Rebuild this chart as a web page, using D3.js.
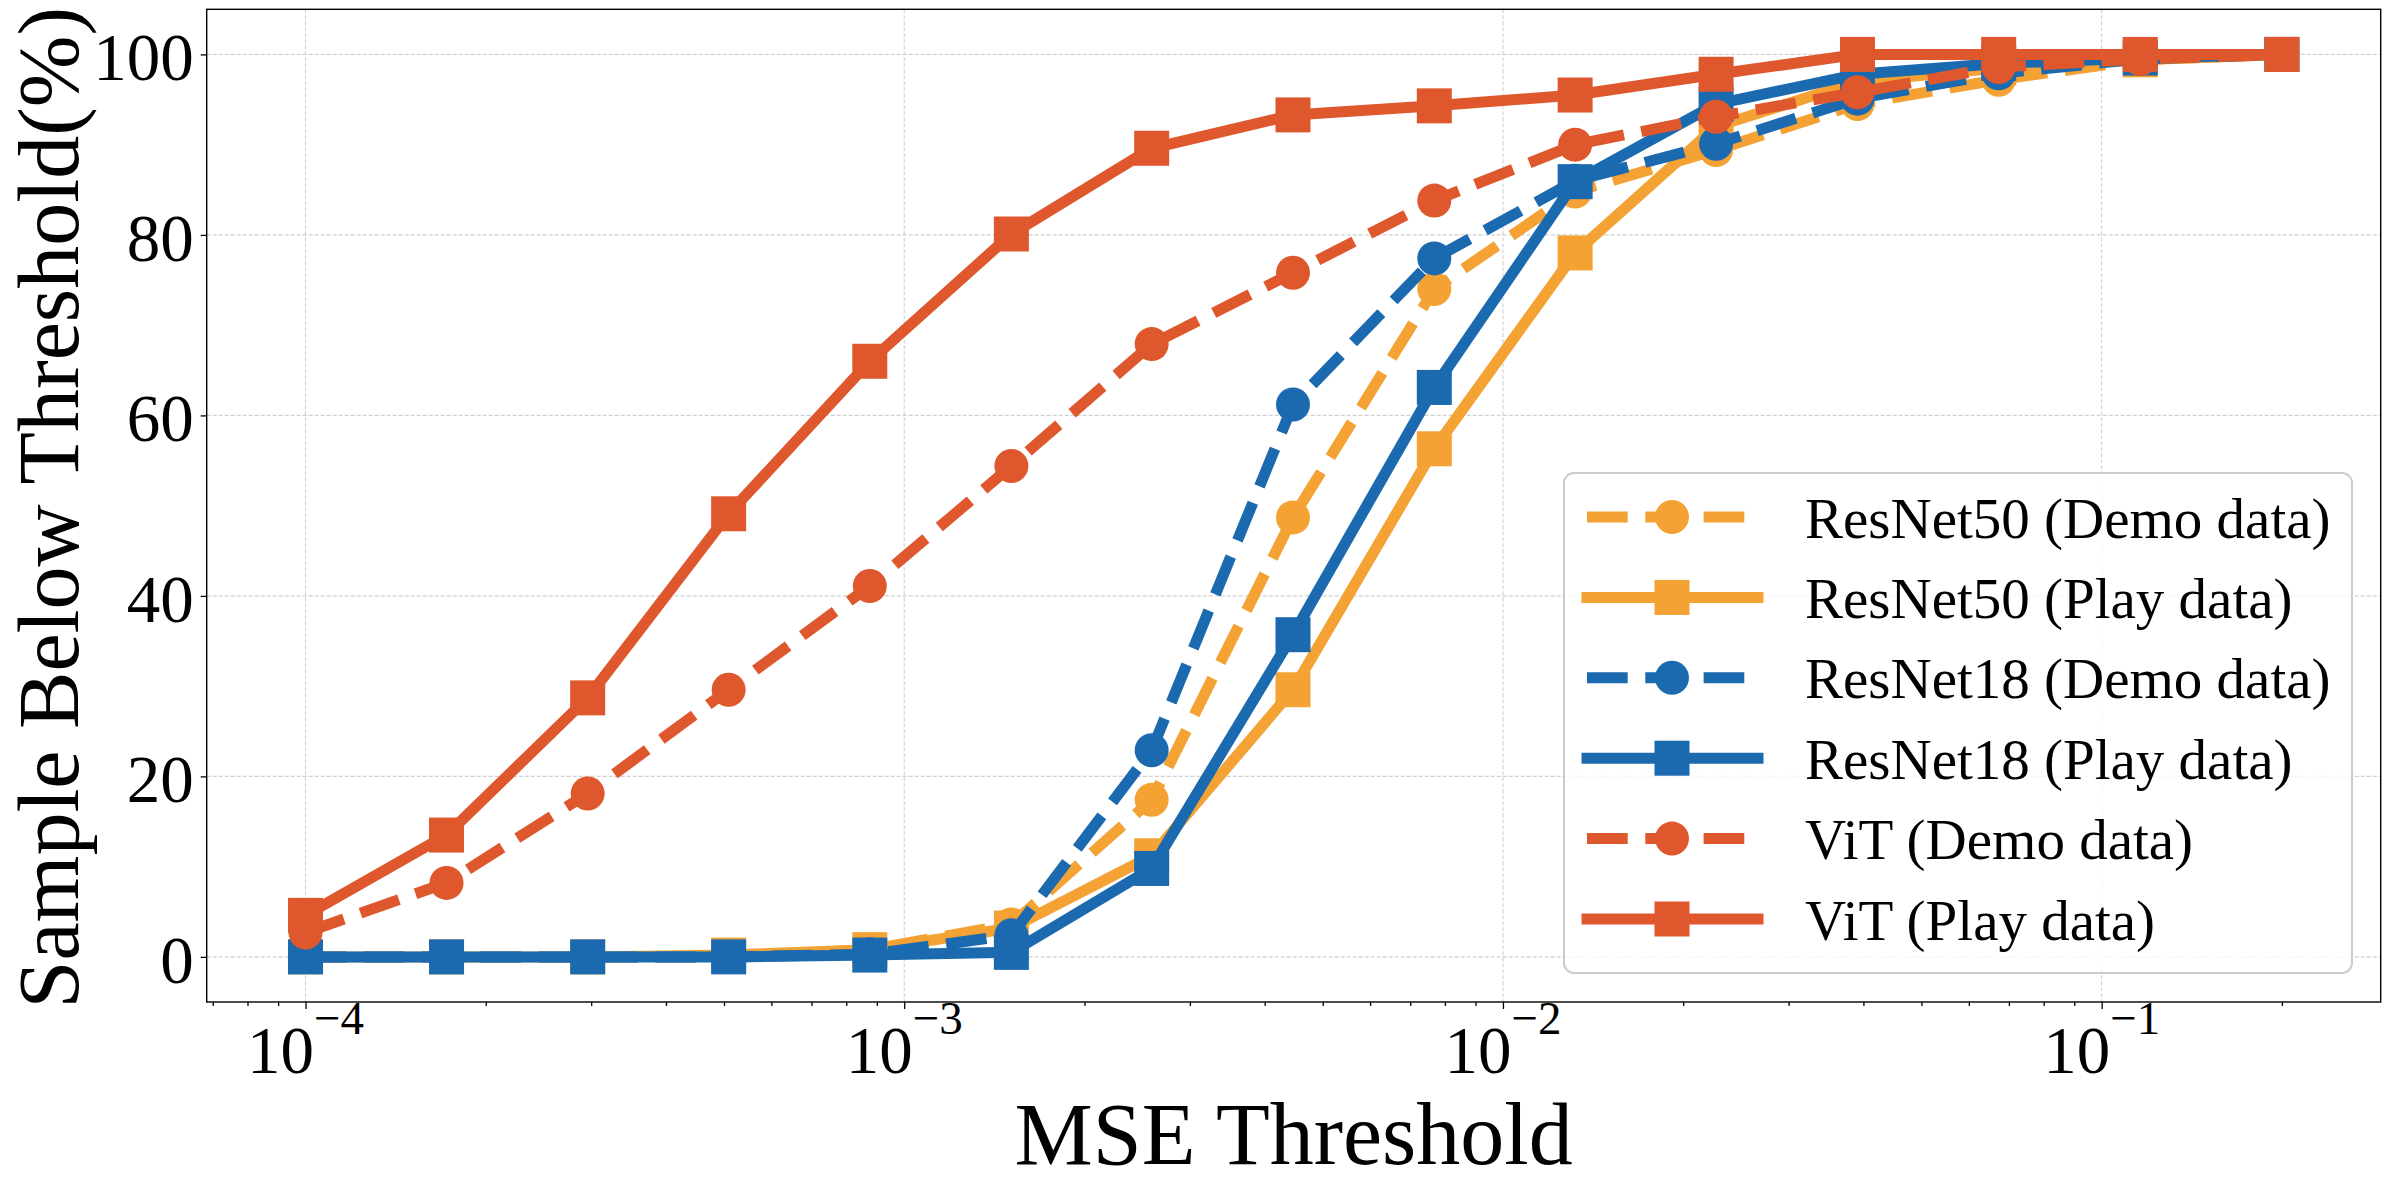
<!DOCTYPE html>
<html><head><meta charset="utf-8">
<script src="https://cdn.jsdelivr.net/npm/d3@7"></script>
<style>html,body{margin:0;padding:0;background:#fff;overflow:hidden}</style>
</head><body>
<svg id="chart" width="2390" height="1189" xmlns="http://www.w3.org/2000/svg"></svg>
<script>
// ---------- data ----------
const mseThresholds = [1.0e-4, 1.72e-4, 2.96e-4, 5.09e-4, 8.76e-4, 1.51e-3, 2.59e-3, 4.46e-3, 7.68e-3, 1.32e-2, 2.27e-2, 3.91e-2, 6.73e-2, 1.16e-1, 2.0e-1];
const resnet50Demo = [0, 0, 0, 0, 0.8, 3.6, 17.4, 48.7, 74.0, 84.8, 89.4, 94.5, 97.2, 99.4, 100];
const resnet50Play = [0, 0, 0, 0.2, 0.8, 3.2, 11.2, 29.6, 56.3, 78.0, 92.0, 97.0, 98.5, 99.4, 100];
const resnet18Demo = [0, 0, 0, 0, 0.3, 2.4, 22.9, 61.2, 77.4, 86.0, 90.1, 95.1, 97.9, 99.5, 100];
const resnet18Play = [0, 0, 0, 0, 0.2, 0.5, 9.8, 35.7, 63.1, 85.9, 94.5, 97.8, 99.0, 99.6, 100];
const vitDemo      = [2.7, 8.2, 18.1, 29.6, 41.1, 54.4, 67.9, 75.8, 83.8, 90.0, 93.1, 95.8, 98.6, 99.5, 100];
const vitPlay      = [4.6, 13.5, 28.7, 49.1, 66.0, 80.1, 89.6, 93.3, 94.3, 95.5, 97.8, 100, 100, 100, 100];
const seriesNames  = ["ResNet50 (Demo data)", "ResNet50 (Play data)", "ResNet18 (Demo data)", "ResNet18 (Play data)", "ViT (Demo data)", "ViT (Play data)"];
const seriesValues = [resnet50Demo, resnet50Play, resnet18Demo, resnet18Play, vitDemo, vitPlay];
const yTickValues  = [0, 20, 40, 60, 80, 100];
const xTickExponents = [-4, -3, -2, -1];
const xLabel = "MSE Threshold";
const yLabel = "Sample Below Threshold(%)";

// ---------- styles ----------
const colors = {orange: "#f3a233", blue: "#1b6ab0", red: "#df582d"};
const seriesStyle = [
  {color: colors.orange, dashed: true,  marker: "circle"},
  {color: colors.orange, dashed: false, marker: "square"},
  {color: colors.blue,   dashed: true,  marker: "circle"},
  {color: colors.blue,   dashed: false, marker: "square"},
  {color: colors.red,    dashed: true,  marker: "circle"},
  {color: colors.red,    dashed: false, marker: "square"}
];
const FONT = "'Liberation Serif', 'Times New Roman', serif";
const LW = 11, DASH = "40.7,17.6", SQ = 35, CR = 17;

const W = 2390, H = 1189;
const plot = {left: 206.7, right: 2380.7, top: 9.3, bottom: 1002};
const svg = d3.select("#chart");
svg.append("rect").attr("width", W).attr("height", H).attr("fill", "#fff");

const lx = d3.extent(mseThresholds).map(Math.log10);
const pad = (lx[1] - lx[0]) * 0.05;
const x = d3.scaleLog().domain([Math.pow(10, lx[0] - pad), Math.pow(10, lx[1] + pad)]).range([plot.left, plot.right]);
const y = d3.scaleLinear().domain([-5, 105]).range([plot.bottom, plot.top]);

svg.append("defs").append("clipPath").attr("id", "clip")
  .append("rect").attr("x", plot.left).attr("y", plot.top)
  .attr("width", plot.right - plot.left).attr("height", plot.bottom - plot.top);

// ---------- grid ----------
const majorX = xTickExponents.map(e => Math.pow(10, e));
const grid = svg.append("g").attr("stroke", "#d0d0d0").attr("stroke-width", 1.1).attr("stroke-dasharray", "4,2");
grid.selectAll("line.gx").data(majorX).join("line").attr("class", "gx")
  .attr("x1", d => x(d)).attr("x2", d => x(d)).attr("y1", plot.top).attr("y2", plot.bottom);
grid.selectAll("line.gy").data(yTickValues).join("line").attr("class", "gy")
  .attr("x1", plot.left).attr("x2", plot.right).attr("y1", d => y(d)).attr("y2", d => y(d));

// ---------- series ----------
const gData = svg.append("g").attr("clip-path", "url(#clip)");
const line = d3.line().x((d, i) => x(mseThresholds[i])).y(d => y(d));

function drawMarker(g, type, cx, cy, color) {
  if (type === "circle") {
    g.append("circle").attr("cx", cx).attr("cy", cy).attr("r", CR).attr("fill", color);
  } else {
    g.append("rect").attr("x", cx - SQ / 2).attr("y", cy - SQ / 2).attr("width", SQ).attr("height", SQ).attr("fill", color);
  }
}

seriesValues.forEach((vals, si) => {
  const st = seriesStyle[si];
  const g = gData.append("g");
  g.append("path").attr("d", line(vals)).attr("fill", "none")
    .attr("stroke", st.color).attr("stroke-width", LW)
    .attr("stroke-linejoin", "round")
    .attr("stroke-linecap", st.dashed ? "butt" : "square")
    .attr("stroke-dasharray", st.dashed ? DASH : null);
  vals.forEach((v, i) => drawMarker(g, st.marker, x(mseThresholds[i]), y(v), st.color));
});

// ---------- axes ----------
const minorX = [];
for (let e = -5; e <= 0; e++) for (let m = 2; m <= 9; m++) {
  const v = m * Math.pow(10, e);
  if (v >= x.domain()[0] && v <= x.domain()[1]) minorX.push(v);
}
const axB = svg.append("g").attr("transform", `translate(0,${plot.bottom})`)
  .call(d3.axisBottom(x).tickValues(majorX).tickSize(7).tickFormat(""));
const axBm = svg.append("g").attr("transform", `translate(0,${plot.bottom})`)
  .call(d3.axisBottom(x).tickValues(minorX).tickSize(4).tickFormat(""));
[axB, axBm].forEach(a => { a.select(".domain").remove(); a.selectAll("line").attr("stroke", "#000").attr("stroke-width", 1.3); });

const axL = svg.append("g").attr("transform", `translate(${plot.left},0)`)
  .call(d3.axisLeft(y).tickValues(yTickValues).tickSize(6).tickPadding(7));
axL.select(".domain").remove();
axL.selectAll("line").attr("stroke", "#000").attr("stroke-width", 1.3);
axL.selectAll("text").attr("font-family", FONT).attr("font-size", 67).attr("fill", "#000").attr("dy", "0.38em");

// x tick labels: 10^{-n}
const xl = svg.append("g");
xTickExponents.forEach(e => {
  const t = xl.append("text").attr("x", x(Math.pow(10, e))).attr("y", 1073)
    .attr("text-anchor", "middle").attr("font-family", FONT).attr("fill", "#000");
  t.append("tspan").attr("font-size", 67).text("10");
  t.append("tspan").attr("font-size", 47).attr("dy", -39.5).text("\u2212" + Math.abs(e));
});

// frame
svg.append("rect").attr("x", plot.left).attr("y", plot.top)
  .attr("width", plot.right - plot.left).attr("height", plot.bottom - plot.top)
  .attr("fill", "none").attr("stroke", "#000").attr("stroke-width", 1.4);

// axis labels
svg.append("text").attr("x", (plot.left + plot.right) / 2).attr("y", 1164)
  .attr("text-anchor", "middle").attr("font-family", FONT).attr("font-size", 88).attr("fill", "#000").text(xLabel);
svg.append("text").attr("transform", `translate(78,${(plot.top + plot.bottom) / 2 + 2}) rotate(-90)`)
  .attr("text-anchor", "middle").attr("font-family", FONT).attr("font-size", 86).attr("fill", "#000").text(yLabel);

// ---------- legend ----------
const lg = svg.append("g");
lg.append("rect").attr("x", 1564).attr("y", 473).attr("width", 788).attr("height", 500).attr("rx", 10)
  .attr("fill", "#fff").attr("fill-opacity", 0.8).attr("stroke", "#cccccc").attr("stroke-width", 2);
seriesNames.forEach((name, i) => {
  const st = seriesStyle[i];
  const cy = 517 + i * 80.4;
  lg.append("line").attr("x1", 1587).attr("x2", 1758).attr("y1", cy).attr("y2", cy)
    .attr("stroke", st.color).attr("stroke-width", LW)
    .attr("stroke-linecap", st.dashed ? "butt" : "square")
    .attr("stroke-dasharray", st.dashed ? DASH : null);
  drawMarker(lg, st.marker, 1672, cy, st.color);
  lg.append("text").attr("x", 1805).attr("y", cy).attr("dy", "0.36em")
    .attr("font-family", FONT).attr("font-size", 57).attr("fill", "#000").text(name);
});
</script>
</body></html>
